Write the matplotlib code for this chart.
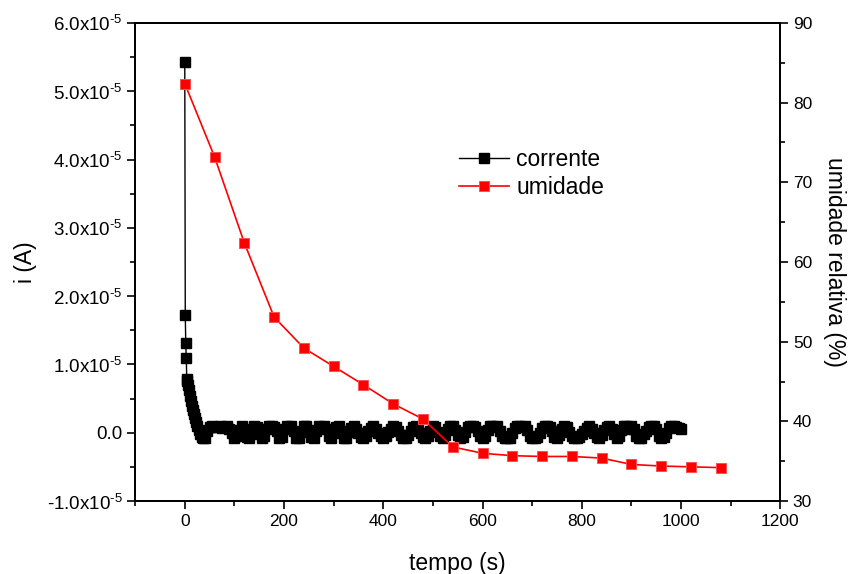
import matplotlib
matplotlib.use('Agg')
import matplotlib.pyplot as plt
from matplotlib.ticker import MultipleLocator, FixedLocator, FuncFormatter

plt.rcParams['font.family'] = ['Liberation Sans', 'DejaVu Sans']
plt.rcParams['mathtext.fontset'] = 'custom'
plt.rcParams['mathtext.rm'] = 'Liberation Sans'

# corrente (A), valores em unidades de 1e-6
t_start = [0, 1, 2, 3, 4, 5, 6, 8, 10, 12, 14, 16, 18, 20, 22, 25, 28, 31, 34, 37]
i_start = [54.3, 17.2, 13.1, 10.9, 7.9, 7.6, 7.0, 6.2, 5.4, 4.6, 3.9, 3.3, 2.7, 2.1,
           1.6, 1.0, 0.4, -0.2, -0.6, -0.8]
t_tail = list(range(40, 1001, 5))
i_tail = [
    -0.7, 0.2, 0.9, 1.0, 0.8, 0.9, 1.0, 0.7, 0.9, 1.0, 0.5,
    -0.1, -0.8, -0.5, 0.4, 1.0, 0.5, -0.6, -0.8, 0.1, 1.0, 0.8, -0.2, -0.8, -0.4,
    0.6, 1.0, 1.0, 0.9, 0.2, -0.7, -0.6, 0.5, 1.0, 0.9, 1.0, 0.3, -0.8, -0.8,
    0.1, 1.0, 1.0, 0.4, -0.6, -0.8, 0.2, 1.0, 0.9, 1.0, 0.6, -0.4, -0.8, 0.0,
    0.8, 1.0, 0.3, -0.7, -0.8, 0.1,
    0.7, 1.0, 0.5, -0.1, -0.6, -0.8, -0.4, 0.2, 0.7, 1.0, 0.6, 0.0, -0.5, -0.8,
    -0.5, 0.1, 0.6, 1.0, 0.8, 0.3, -0.3, -0.8, -0.8, -0.3, 0.3, 0.8, 1.0, 0.5,
    -0.1, -0.6, -0.8, -0.4, 0.3, 1.0, 0.8, 0.1, -0.5, -0.8, -0.3, 0.5, 1.0, 1.0,
    0.4, -0.3, -0.8, -0.6, 0.1, 0.8, 1.0, 1.0, 0.8, 0.2, -0.5, -0.8, -0.4, 0.4,
    1.0, 1.0, 0.8, 1.0, 0.3, -0.5, -0.8, -0.7, -0.8, -0.1, 0.7, 1.0, 1.0, 0.8,
    1.0, 0.4, -0.4, -0.8, -0.8, -0.6, 0.0, 0.7, 1.0, 1.0, 0.8, 0.2, -0.6, -0.8,
    -0.3, 0.5, 1.0, 0.8, 0.1, -0.5, -0.8, -0.8, -0.6, -0.2, 0.3, 0.7, 1.0, 0.6,
    0.0, -0.6, -0.8, -0.3, 0.4, 0.8, 1.0, 0.5, -0.2, -0.8, -0.5, 0.4, 1.0, 1.0,
    0.5, 1.0, 0.6, -0.4, -0.8, -0.8, -0.2, 0.3, 0.8, 1.0, 1.0, 0.5, -0.4, -0.8,
    -0.6, 0.0, 0.7, 1.0, 1.0, 0.8, 0.7, 0.6,
]
t_corr = t_start + t_tail
i_corr = [v * 1e-6 for v in i_start + i_tail]

# umidade relativa (%)
t_umid = list(range(0, 1081, 60))
umid = [82.4, 73.2, 62.4, 53.1, 49.2, 46.9, 44.6, 42.2, 40.3, 36.8, 36.0, 35.7,
        35.6, 35.6, 35.4, 34.6, 34.4, 34.3, 34.2]

fig = plt.figure(figsize=(8.5, 5.74), dpi=100)
ax = fig.add_axes([0.159, 0.127, 0.759, 0.833])
ax2 = ax.twinx()

l1, = ax.plot(t_corr, i_corr, color='black', lw=1, marker='s', ms=7,
              mec='black', mfc='black', label='corrente')
l2, = ax2.plot(t_umid, umid, color='red', lw=1.2, marker='s', ms=6.8,
               mec='#ff5050', mfc='red', mew=0.7, label='umidade')

ax.set_xlim(-100, 1200)
ax.set_ylim(-1e-5, 6e-5)
ax2.set_ylim(30, 90)

ax.xaxis.set_major_locator(FixedLocator([0, 200, 400, 600, 800, 1000, 1200]))
ax.xaxis.set_minor_locator(MultipleLocator(100))
ax.yaxis.set_major_locator(MultipleLocator(1e-5))
ax.yaxis.set_minor_locator(MultipleLocator(0.5e-5))
ax2.yaxis.set_major_locator(MultipleLocator(10))
ax2.yaxis.set_minor_locator(MultipleLocator(5))


def fmt_sci(v, pos):
    m = round(v / 1e-5, 1)
    if m == 0:
        return '0.0'
    return '%.1fx10$^{\\text{-5}}$' % m


ax.yaxis.set_major_formatter(FuncFormatter(fmt_sci))

for a in (ax, ax2):
    a.tick_params(which='major', direction='out', length=6, width=1.2,
                  labelsize=12.5, pad=3)
    a.tick_params(which='minor', direction='out', length=3.5, width=1.2)
    for s in a.spines.values():
        s.set_linewidth(1.3)
ax.tick_params(axis='y', which='both', right=False, labelsize=13.5)
ax.tick_params(axis='x', which='both', top=False)

ax.set_xlabel('tempo (s)', fontsize=16.5, labelpad=17)
ax.set_ylabel('i (A)', fontsize=16.5, labelpad=7)
ax2.set_ylabel('umidade relativa (%)', fontsize=16.5, rotation=270, labelpad=24)

ax2.legend(handles=[l1, l2], loc='upper left', bbox_to_anchor=(0.47, 0.781),
           frameon=False, fontsize=16.5, numpoints=1, handlelength=2.2,
           handletextpad=0.3, labelspacing=0.2)

fig.savefig('out.png', dpi=100)
